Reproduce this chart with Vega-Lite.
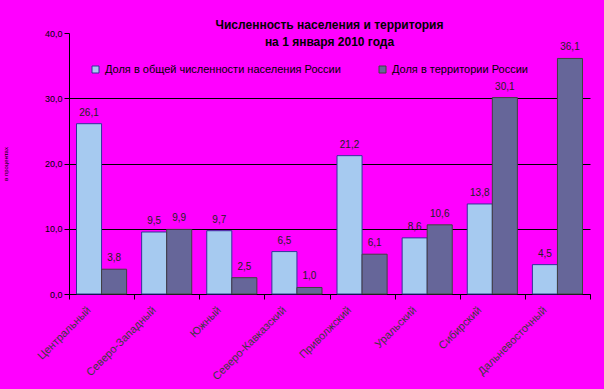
{
  "$schema": "https://vega.github.io/schema/vega-lite/v6.json",
  "width": 521,
  "height": 261,
  "autosize": "none",
  "padding": {"left": 69, "top": 33, "right": 14, "bottom": 95},
  "background": "#FF00FF",
  "config": {
    "font": "Liberation Sans",
    "view": {"stroke": null},
    "locale": {"number": {"decimal": ",", "thousands": " ", "grouping": [3], "currency": ["", ""]}}
  },
  "title": {
    "text": ["Численность населения и территория", "на 1 января 2010 года"],
    "fontSize": 12,
    "fontWeight": "bold",
    "color": "black",
    "anchor": "middle",
    "lineHeight": 17,
    "baseline": "top",
    "offset": -20
  },
  "data": {
    "values": [
      {"region": "Центральный", "series": "Доля в общей численности населения России", "value": 26.1},
      {"region": "Центральный", "series": "Доля в территории России", "value": 3.8},
      {"region": "Северо-Западный", "series": "Доля в общей численности населения России", "value": 9.5},
      {"region": "Северо-Западный", "series": "Доля в территории России", "value": 9.9},
      {"region": "Южный", "series": "Доля в общей численности населения России", "value": 9.7},
      {"region": "Южный", "series": "Доля в территории России", "value": 2.5},
      {"region": "Северо-Кавказский", "series": "Доля в общей численности населения России", "value": 6.5},
      {"region": "Северо-Кавказский", "series": "Доля в территории России", "value": 1.0},
      {"region": "Приволжский", "series": "Доля в общей численности населения России", "value": 21.2},
      {"region": "Приволжский", "series": "Доля в территории России", "value": 6.1},
      {"region": "Уральский", "series": "Доля в общей численности населения России", "value": 8.6},
      {"region": "Уральский", "series": "Доля в территории России", "value": 10.6},
      {"region": "Сибирский", "series": "Доля в общей численности населения России", "value": 13.8},
      {"region": "Сибирский", "series": "Доля в территории России", "value": 30.1},
      {"region": "Дальневосточный", "series": "Доля в общей численности населения России", "value": 4.5},
      {"region": "Дальневосточный", "series": "Доля в территории России", "value": 36.1}
    ]
  },
  "encoding": {
    "x": {
      "field": "region",
      "type": "nominal",
      "sort": null,
      "scale": {"paddingInner": 0, "paddingOuter": 0},
      "axis": {
        "title": null,
        "tickBand": "extent",
        "labelAngle": -45,
        "labelFontSize": 11,
        "labelColor": "#3a3a3a",
        "domainColor": "black",
        "tickColor": "black",
        "tickSize": 5,
        "labelPadding": 5,
        "labelOffset": -17
      }
    },
    "xOffset": {"field": "series", "sort": null, "scale": {"paddingOuter": 0.3, "paddingInner": 0}},
    "y": {
      "field": "value",
      "type": "quantitative",
      "scale": {"domain": [0, 40], "nice": false},
      "axis": {
        "title": "в процентах",
        "titleFontSize": 6,
        "titleFontWeight": "normal",
        "titleColor": "black",
        "titlePadding": 36,
        "values": [0, 10, 20, 30, 40],
        "format": ".1f",
        "labelFontSize": 9,
        "labelColor": "black",
        "domainColor": "black",
        "tickColor": "black",
        "tickSize": 5,
        "grid": true,
        "gridColor": {"condition": {"test": "datum.value >= 40", "value": "transparent"}, "value": "black"},
        "gridOpacity": 1
      }
    }
  },
  "layer": [
    {
      "mark": {"type": "bar", "strokeWidth": 1},
      "encoding": {
        "color": {
          "field": "series",
          "type": "nominal",
          "sort": null,
          "scale": {"range": ["#A6CAF0", "#666699"]},
          "legend": {
            "title": null,
            "orient": "none",
            "legendX": 21,
            "legendY": 31,
            "direction": "horizontal",
            "symbolType": "square",
            "symbolSize": 49,
            "symbolStrokeWidth": 1,
            "labelFontSize": 11,
            "labelColor": "black",
            "labelLimit": 400,
            "columnPadding": 36,
            "symbolOpacity": 1
          }
        },
        "stroke": {
          "field": "series",
          "type": "nominal",
          "sort": null,
          "scale": {"range": ["#333399", "#404040"]},
          "legend": {
            "title": null,
            "orient": "none",
            "legendX": 21,
            "legendY": 31,
            "direction": "horizontal",
            "symbolType": "square",
            "symbolSize": 49,
            "symbolStrokeWidth": 1,
            "labelFontSize": 11,
            "labelColor": "black",
            "labelLimit": 400,
            "columnPadding": 36
          }
        }
      }
    },
    {
      "mark": {"type": "text", "dy": -11, "fontSize": 10, "color": "#222222"},
      "encoding": {
        "text": {"field": "value", "type": "quantitative", "format": ".1f"}
      }
    }
  ]
}
